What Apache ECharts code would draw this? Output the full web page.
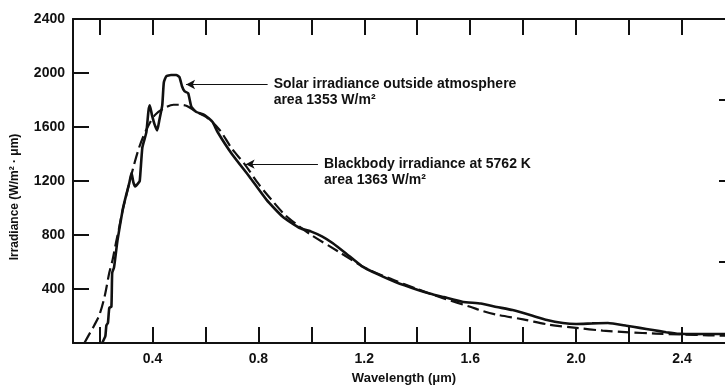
<!DOCTYPE html>
<html>
<head>
<meta charset="utf-8">
<script src="https://cdn.jsdelivr.net/npm/echarts@6/dist/echarts.min.js"></script>
<style>
  html, body { margin: 0; padding: 0; background: #fff; }
  #chart { width: 725px; height: 388px; }
</style>
</head>
<body>
<div id="chart"></div>
<script>
// Measured solar spectrum outside the atmosphere (µm, W/m²·µm)
const solarWavelength = [
  0.21, 0.222, 0.226, 0.232, 0.237, 0.245, 0.248, 0.255, 0.268, 0.287,
  0.300, 0.312, 0.321, 0.328, 0.335, 0.345, 0.352, 0.362, 0.377, 0.385,
  0.390, 0.398, 0.408, 0.418, 0.426, 0.437, 0.443, 0.452, 0.470, 0.490,
  0.502, 0.512, 0.521, 0.535, 0.547, 0.566, 0.597, 0.627, 0.646, 0.70,
  0.767, 0.831, 0.892, 0.956, 1.00, 1.04, 1.08, 1.13, 1.19, 1.25,
  1.32, 1.40, 1.45, 1.50, 1.57, 1.64, 1.70, 1.76, 1.83, 1.89,
  1.95, 2.00, 2.06, 2.12, 2.19, 2.24, 2.29, 2.34, 2.39, 2.45,
  2.50, 2.60
];
const solarIrradiance = [
  0, 50, 130, 150, 260, 270, 520, 560, 760, 980,
  1090, 1180, 1260, 1190, 1160, 1180, 1200, 1450, 1560, 1720,
  1760, 1690, 1620, 1575, 1650, 1760, 1930, 1975, 1985, 1985,
  1970, 1900, 1865, 1850, 1750, 1711, 1689, 1637, 1563, 1400,
  1230, 1060, 935, 852, 825, 790, 741, 665, 570, 510,
  450, 395, 365, 340, 305, 292, 267, 244, 205, 170,
  148, 141, 145, 148, 128, 112, 96, 80, 68, 66,
  67, 66
];

// Blackbody curve at 5762 K, same area
const blackbodyWavelength = [
  0.143, 0.16, 0.18, 0.20, 0.22, 0.237, 0.25, 0.262, 0.275, 0.287,
  0.302, 0.325, 0.35, 0.377, 0.41, 0.45, 0.48, 0.50, 0.53, 0.566,
  0.604, 0.653, 0.70, 0.75, 0.80, 0.85, 0.90, 0.95, 1.00, 1.10,
  1.20, 1.30, 1.40, 1.50, 1.60, 1.65, 1.70, 1.80, 1.90, 2.00,
  2.10, 2.20, 2.30, 2.40, 2.50, 2.60
];
const blackbodyIrradiance = [
  0, 60, 130, 210, 350, 520, 620, 740, 860, 980,
  1100, 1280, 1450, 1580, 1690, 1745, 1765, 1765, 1756, 1711,
  1674, 1580, 1440, 1320, 1180, 1060, 950, 870, 800, 680,
  560, 475, 400, 330, 268, 235, 210, 175, 135, 112,
  92, 79, 70, 63, 57, 52
];

// Axis ticks and labels
const xTickValues = [0.2, 0.4, 0.6, 0.8, 1.0, 1.2, 1.4, 1.6, 1.8, 2.0, 2.2, 2.4, 2.6];
const xLabelValues = [0.4, 0.8, 1.2, 1.6, 2.0, 2.4];
const yTickValues = [400, 800, 1200, 1600, 2000, 2400];

const ink = '#111';
const labelFont = { color: ink, fontFamily: 'Liberation Sans', fontWeight: 'bold' };
const axisStroke = { color: ink, width: 2 };

const pairs = (xs, ys) => xs.map((x, i) => [x, ys[i]]);

const chart = echarts.init(document.getElementById('chart'), null, { renderer: 'canvas' });

chart.setOption({
  backgroundColor: '#fff',
  animation: false,
  // the frame runs slightly past the right edge of the page
  grid: { left: 73, top: 19, width: 662, bottom: 45, containLabel: false, outerBoundsMode: 'none' },
  xAxis: [
    {
      type: 'value', position: 'bottom', min: 0.1, max: 2.6,
      name: 'Wavelength (μm)', nameLocation: 'middle', nameGap: 29,
      nameTextStyle: Object.assign({ fontSize: 13 }, labelFont),
      axisLine: { show: true, onZero: false, lineStyle: axisStroke },
      axisTick: { show: true, inside: true, length: 16, customValues: xTickValues, lineStyle: axisStroke },
      axisLabel: Object.assign({ fontSize: 14, margin: 9, customValues: xLabelValues, formatter: v => v.toFixed(1) }, labelFont),
      splitLine: { show: false }
    },
    {
      type: 'value', position: 'top', min: 0.1, max: 2.6,
      axisLine: { show: true, onZero: false, lineStyle: axisStroke },
      axisTick: { show: true, inside: true, length: 16, customValues: xTickValues, lineStyle: axisStroke },
      axisLabel: { show: false },
      splitLine: { show: false }
    }
  ],
  yAxis: [
    {
      type: 'value', position: 'left', min: 0, max: 2400,
      name: 'Irradiance (W/m² · μm)', nameLocation: 'middle', nameGap: 52, nameRotate: 90,
      nameTextStyle: Object.assign({ fontSize: 12, padding: [0, 32, 0, 0] }, labelFont),
      axisLine: { show: true, onZero: false, lineStyle: axisStroke },
      axisTick: { show: true, inside: true, length: 16, customValues: yTickValues, lineStyle: axisStroke },
      axisLabel: Object.assign({ fontSize: 14, margin: 8, customValues: yTickValues, formatter: v => String(v) }, labelFont),
      splitLine: { show: false }
    },
    {
      type: 'value', position: 'right', min: 0, max: 4, interval: 1,
      axisLine: { show: true, onZero: false, lineStyle: axisStroke },
      axisTick: { show: true, inside: true, length: 16, lineStyle: axisStroke },
      axisLabel: { show: false },
      splitLine: { show: false }
    }
  ],
  series: [
    {
      name: 'Solar irradiance outside atmosphere',
      type: 'line', xAxisIndex: 0, yAxisIndex: 0,
      data: pairs(solarWavelength, solarIrradiance),
      showSymbol: false, smooth: 0.15,
      lineStyle: { color: ink, width: 2.6 },
      markLine: {
        silent: true,
        symbol: ['none', 'arrow'],
        symbolSize: [7, 9],
        lineStyle: { color: ink, width: 1, type: 'solid' },
        label: {
          show: true, position: 'start', distance: 6,
          // leading blank line keeps the first text line level with the arrow
          formatter: '\nSolar irradiance outside atmosphere\narea 1353 W/m²',
          color: ink, fontFamily: 'Liberation Sans', fontWeight: 'bold', fontSize: 14,
          lineHeight: 16
        },
        data: [[{ coord: [0.835, 1915] }, { coord: [0.527, 1915] }]]
      }
    },
    {
      name: 'Blackbody irradiance at 5762 K',
      type: 'line', xAxisIndex: 0, yAxisIndex: 0,
      data: pairs(blackbodyWavelength, blackbodyIrradiance),
      showSymbol: false, smooth: 0.3,
      lineStyle: { color: ink, width: 2.2, type: [12, 5] },
      markLine: {
        silent: true,
        symbol: ['none', 'arrow'],
        symbolSize: [7, 9],
        lineStyle: { color: ink, width: 1, type: 'solid' },
        label: {
          show: true, position: 'start', distance: 6,
          formatter: '\nBlackbody irradiance at 5762 K\narea 1363 W/m²',
          color: ink, fontFamily: 'Liberation Sans', fontWeight: 'bold', fontSize: 14,
          lineHeight: 16
        },
        data: [[{ coord: [1.025, 1325] }, { coord: [0.752, 1325] }]]
      }
    }
  ]
});
</script>
</body>
</html>
